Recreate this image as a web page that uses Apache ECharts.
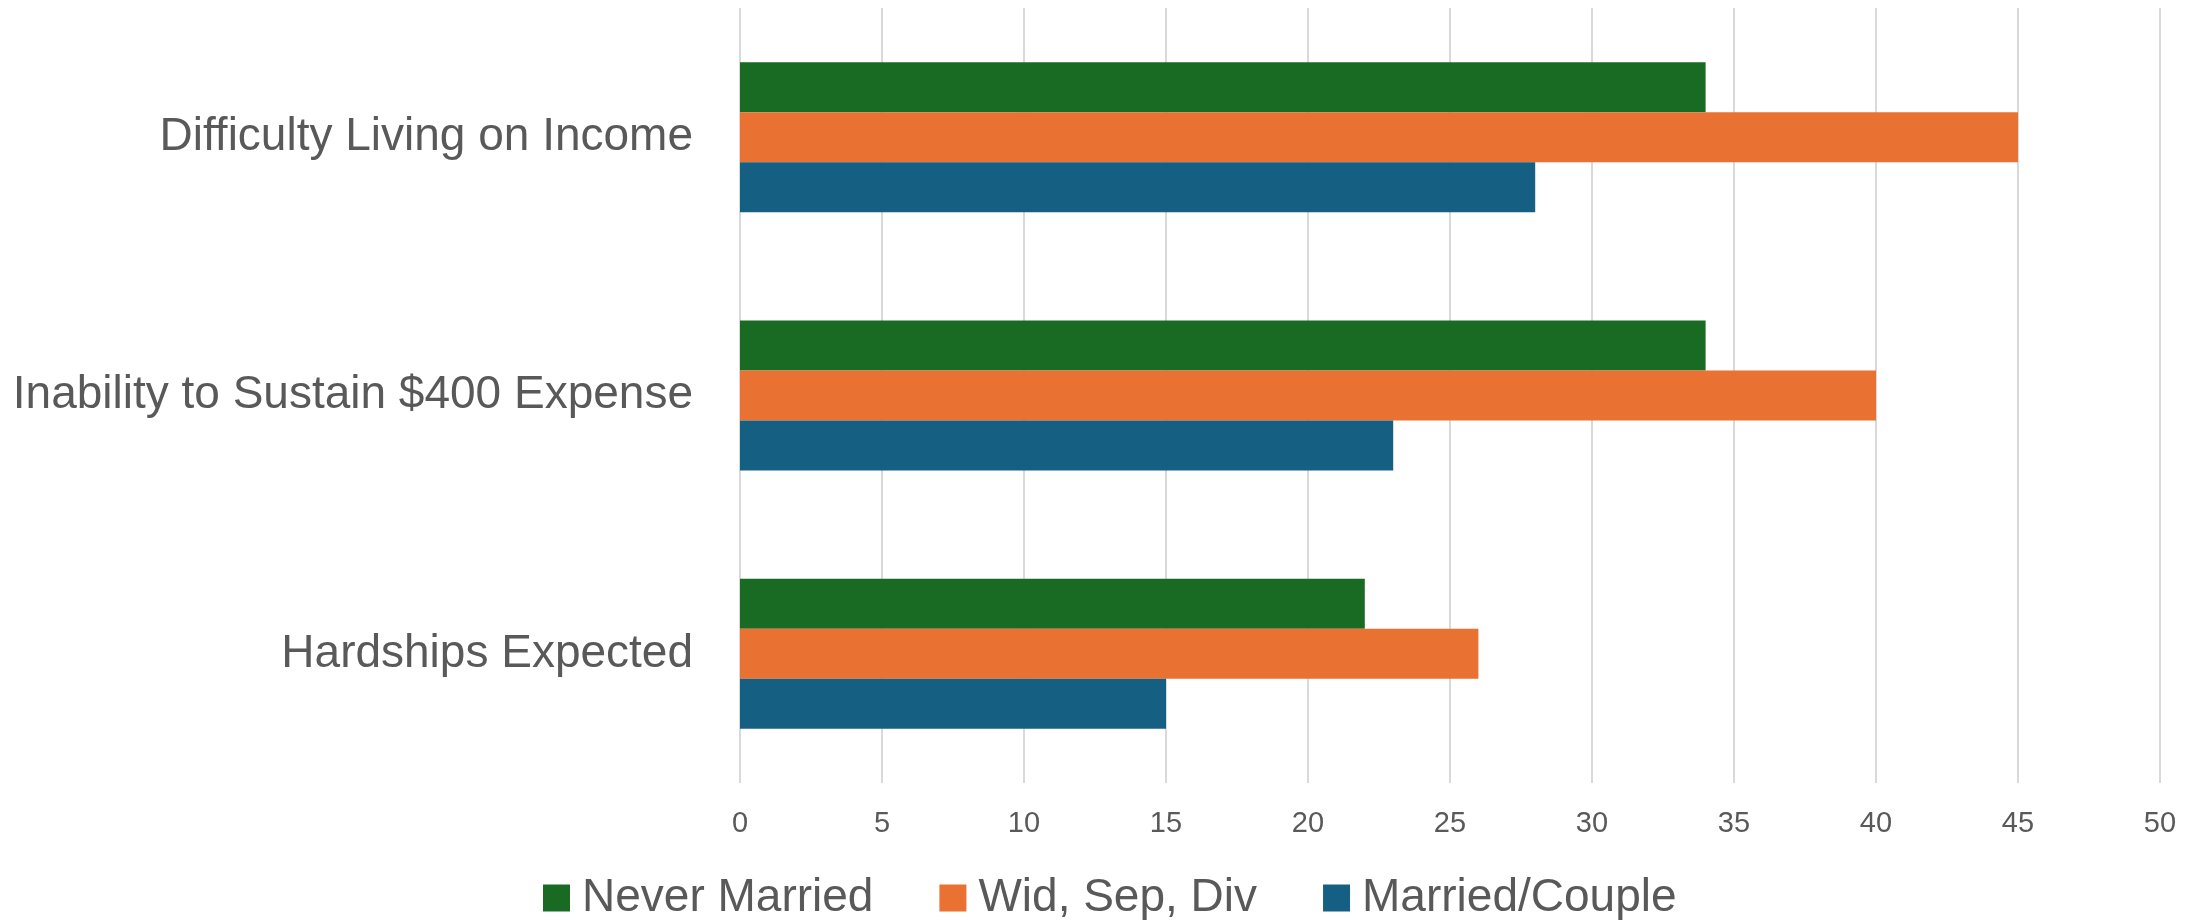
<!DOCTYPE html>
<html>
<head>
<meta charset="utf-8">
<script src="https://cdn.jsdelivr.net/npm/echarts@6/dist/echarts.min.js"></script>
<style>
	html, body { margin: 0; padding: 0; background: #fff; }
	#chart { width: 2203px; height: 920px; }
</style>
</head>
<body>
<div id="chart"></div>
<script>
	'use strict';

	// categories, top to bottom
	var categories = ['Difficulty Living on Income', 'Inability to Sustain $400 Expense', 'Hardships Expected'];

	// series values (percent)
	var neverMarried = [34, 34, 22];
	var widSepDiv = [45, 40, 26];
	var marriedCouple = [28, 23, 15];

	var seriesNames = ['Never Married', 'Wid, Sep, Div', 'Married/Couple'];

	var font = 'Liberation Sans, Arial, sans-serif';

	var chart = echarts.init(document.getElementById('chart'));
	var option = {
		color: ['#196B24', '#E97132', '#156082'],
		textStyle: {
			fontFamily: font
		},
		grid: {
			top: 8,
			bottom: 137,
			left: 740,
			right: 43,
			containLabel: false,
			outerBoundsMode: 'none'
		},
		legend: {
			left: 538,
			top: 870,
			itemWidth: 27,
			itemHeight: 27,
			itemGap: 66,
			icon: 'rect',
			textStyle: {
				fontFamily: font,
				fontSize: 46,
				color: '#595959',
				padding: [0, 0, 0, 7]
			},
			data: seriesNames
		},
		xAxis: {
			type: 'value',
			min: 0,
			max: 50,
			interval: 5,
			axisLine: { show: false },
			axisTick: { show: false },
			splitLine: {
				lineStyle: {
					color: '#d9d9d9',
					width: 2
				}
			},
			axisLabel: {
				fontFamily: font,
				fontSize: 29,
				color: '#595959',
				margin: 26
			}
		},
		yAxis: {
			type: 'category',
			inverse: true,
			data: categories,
			axisLine: { show: false },
			axisTick: { show: false },
			axisLabel: {
				fontFamily: font,
				fontSize: 46,
				color: '#595959',
				margin: 47
			}
		},
		series: [{
			name: seriesNames[0],
			type: 'bar',
			barWidth: 50,
			barGap: '0%',
			data: neverMarried
		}, {
			name: seriesNames[1],
			type: 'bar',
			barWidth: 50,
			barGap: '0%',
			data: widSepDiv
		}, {
			name: seriesNames[2],
			type: 'bar',
			barWidth: 50,
			barGap: '0%',
			data: marriedCouple
		}]
	};
	chart.setOption(option);
</script>
</body>
</html>
